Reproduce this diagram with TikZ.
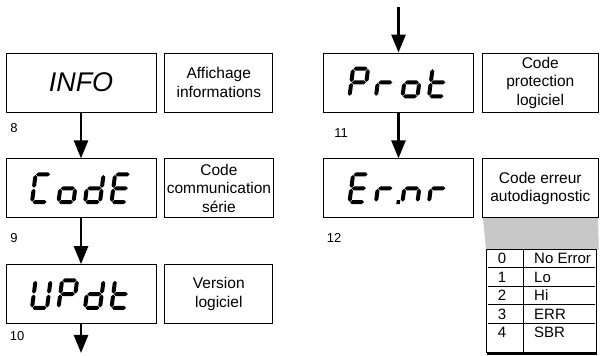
\documentclass[tikz,border=0pt]{standalone}
\usepackage{fontspec}
\setmainfont{Liberation Sans}
\usetikzlibrary{arrows.meta, positioning, calc}

\definecolor{shadegray}{RGB}{200,200,200}

% segments of the lcd glyphs (local units, before slant)
\tikzset{
  lcd/hseg/.style n args={3}{insert path={(#1,#3) -- ++(2,2) -- (#2-2,#3+2) -- (#2,#3) -- (#2-2,#3-2) -- (#1+2,#3-2) -- cycle}},
  lcd/vseg/.style n args={3}{insert path={(#1,#2) -- ++(2,2) -- (#1+2,#3-2) -- (#1,#3) -- (#1-2,#3-2) -- (#1-2,#2+2) -- cycle}},
  lcd/a/.style={lcd/hseg={0.5}{14.5}{27.6}},
  lcd/b/.style={lcd/vseg={15}{14.3}{27.1}},
  lcd/c/.style={lcd/vseg={15}{0.5}{13.3}},
  lcd/d/.style={lcd/hseg={0.5}{14.5}{0}},
  lcd/e/.style={lcd/vseg={0}{0.5}{13.3}},
  lcd/f/.style={lcd/vseg={0}{14.3}{27.1}},
  lcd/g/.style={lcd/hseg={0.5}{14.5}{13.8}},
  lcd/p/.style={insert path={(20.5,-2) rectangle (24,2)}}
}

% #1 display node, #2 list of glyphs (each a list of segments)
\newcommand{\lcdword}[2]{%
  \foreach \segs [count=\gi from 0] in {#2} {
    \begin{scope}[shift={(#1.center)}, shift={(-49+26.5*\gi,-13.8)}, xslant=0.13]
      \foreach \seg in \segs {\fill[lcd/\seg];}
    \end{scope}
  }%
}

\begin{document}
\begin{tikzpicture}[
  x=1pt, y=1pt,
  node distance=46pt and 8pt,
  dispbox/.style={draw, line width=0.8pt, minimum width=150pt, minimum height=59pt, inner sep=0pt},
  descbox/.style={draw, line width=0.8pt, minimum width=108pt, minimum height=59pt, inner sep=2pt, align=center, font=\fontsize{15.5}{18.5}\selectfont},
  numlabel/.style={inner sep=0pt, font=\fontsize{13}{13}\selectfont},
  flowarrow/.style={line width=2.6pt, -{Triangle[length=18pt, width=14pt]}},
  tabtext/.style={inner sep=0pt, font=\fontsize{15}{15}\selectfont}
]
  \useasboundingbox (0,0) rectangle (600,356);

  % left column
  \node [dispbox, font=\fontsize{27}{27}\selectfont\itshape] (info) at (81,273.5) {INFO};
  \node [dispbox] (code) [below=of info] {};
  \node [dispbox] (updt) [below=of code] {};
  \node [descbox] (infodesc) [right=of info] {Affichage\\informations};
  \node [descbox] (codedesc) [right=of code] {Code\\communication\\série};
  \node [descbox] (updtdesc) [right=of updt] {Version\\logiciel};

  % right column
  \node [dispbox] (prot) at (398.5,273.5) {};
  \node [dispbox] (ernr) [below=of prot] {};
  \node [descbox, minimum width=116pt] (protdesc) [right=of prot] {Code\\protection\\logiciel};

  % error table hanging under the description
  \node [draw, line width=0.8pt, minimum width=110pt, minimum height=102.7pt, inner sep=0pt, anchor=north west] (errtab) at (486,106.7) {};
  \fill [shadegray] (483,138) -- (598,138) -- ($(errtab.north east)+(2,0)$) -- (errtab.north west) -- cycle;
  \node [descbox, minimum width=116pt] (ernrdesc) [right=of ernr] {Code erreur\\autodiagnostic};
  \draw [line width=0.8pt] (errtab.north west) rectangle (errtab.south east);
  \draw [line width=0.8pt] ($(errtab.north west)+(37.5,0)$) -- ($(errtab.south west)+(37.5,0)$);
  \foreach \r in {1,...,4}
    \draw [line width=0.8pt] ($(errtab.north west)+(1.5,-18.5*\r)$) -- ($(errtab.north east)+(-1.5,-18.5*\r)$);
  \draw [line width=3pt] ($(errtab.south west)+(1,-1.2)$) -- ($(errtab.south east)+(0,-1.2)$);
  \foreach \k/\v [count=\r from 0] in {0/No Error,1/Lo,2/Hi,3/ERR,4/SBR} {
    \node [tabtext] (key\k) at ($(errtab.north west)+(16,-9.25-18.5*\r)$) {\k};
    \node [tabtext, anchor=west] (val\k) at ($(errtab.north west)+(48,-9.25-18.5*\r)$) {\v};
  }

  % lcd read-outs
  \lcdword{code}{{a,d,e,f},{c,d,e,g},{b,c,d,e,g},{a,d,e,f,g}}
  \lcdword{updt}{{b,c,d,e,f},{a,b,e,f,g},{b,c,d,e,g},{d,e,f,g}}
  \lcdword{prot}{{a,b,e,f,g},{e,g},{c,d,e,g},{d,e,f,g}}
  \lcdword{ernr}{{a,d,e,f,g},{e,g,p},{c,e,g},{e,g}}

  % step numbers
  \node [numlabel] (n8) [below right=11.3pt and 4.5pt of info.south west] {8};
  \node [numlabel] (n9) [below right=15pt and 4.5pt of code.south west] {9};
  \node [numlabel] (n10) [below right=7.4pt and 4pt of updt.south west] {10};
  \node [numlabel] (n11) [below right=16pt and 11pt of prot.south west] {11};
  \node [numlabel] (n12) [below right=15pt and 3.5pt of ernr.south west] {12};

  % flow
  \coordinate (topin) at (398.5,349);
  \coordinate (botout) at (81,3);
  \draw [flowarrow] (info) -- (code);
  \draw [flowarrow] (code) -- (updt);
  \draw [flowarrow] (updt) -- (botout);
  \draw [flowarrow] (topin) -- (prot);
  \draw [flowarrow] (prot) -- (ernr);
\end{tikzpicture}
\end{document}
